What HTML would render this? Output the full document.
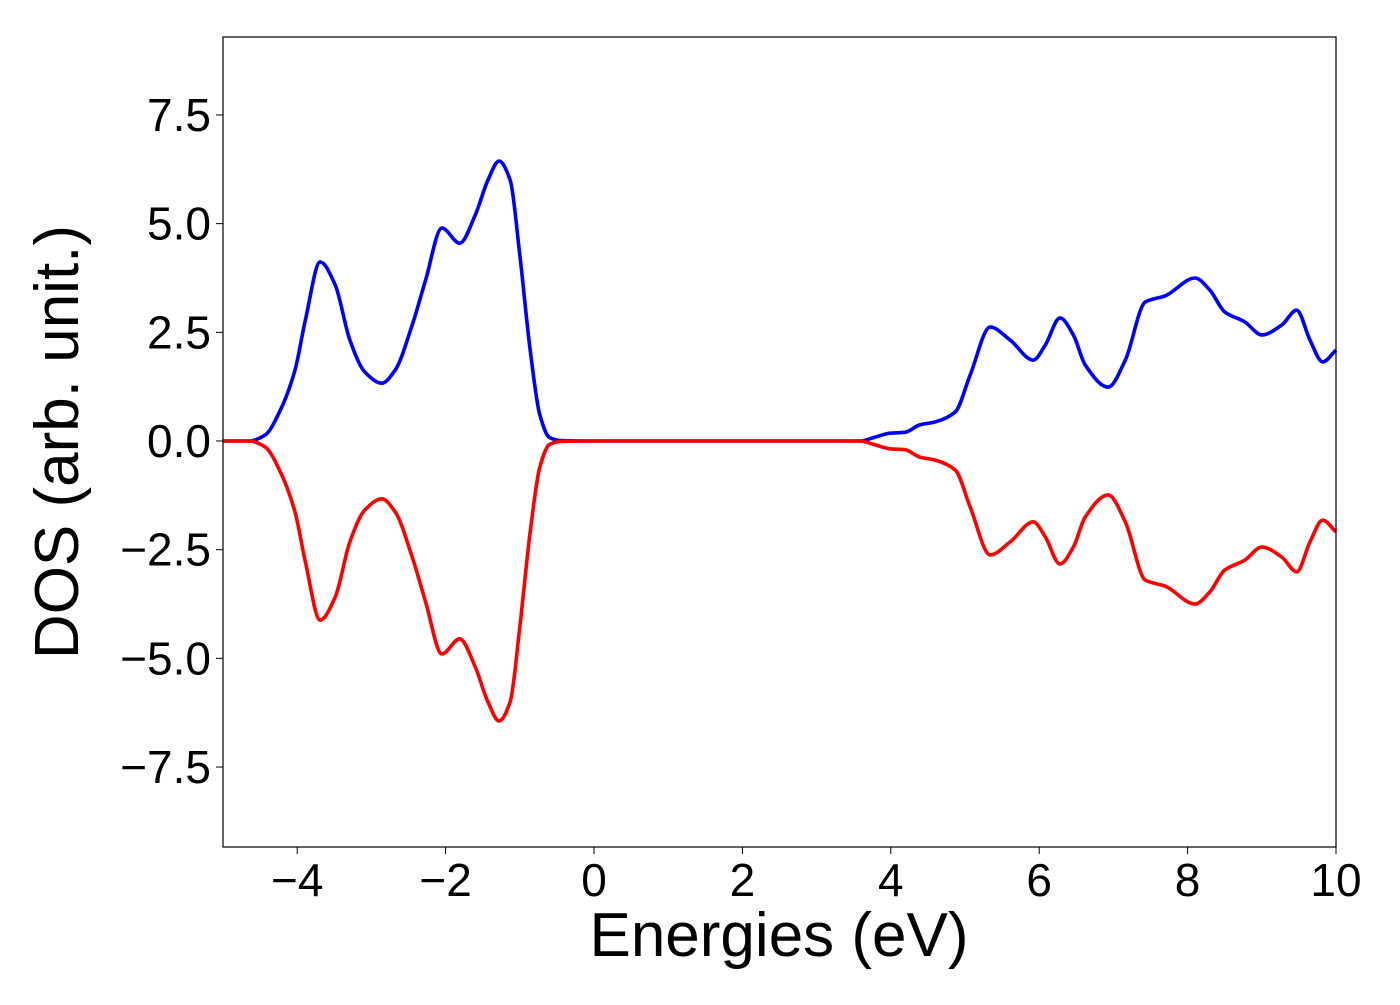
<!DOCTYPE html>
<html><head><meta charset="utf-8"><style>
body{margin:0;background:#fff}
text{font-family:"Liberation Sans","DejaVu Sans",sans-serif;fill:#000}
</style></head><body>
<svg id="chart" width="1400" height="1000" xmlns="http://www.w3.org/2000/svg">
<g id="marks"></g>
<rect x="223" y="37" width="1113" height="810" fill="none" stroke="#000" stroke-width="1.2"/>
<g id="xt"></g><g id="yt"></g>
<text x="779" y="956" font-size="62" text-anchor="middle">Energies (eV)</text>
<text transform="translate(78,442) rotate(-90)" font-size="62" text-anchor="middle">DOS (arb. unit.)</text>
</svg>
<script>
const energies=[-5,-4.64,-4.43,-4.23,-4.03,-3.89,-3.69,-3.49,-3.29,-3.09,-2.86,-2.68,-2.45,-2.27,-2.05,-1.81,-1.6,-1.43,-1.28,-1.13,-1.0,-0.86,-0.73,-0.6,-0.45,0,1,2,3,3.58,3.79,3.99,4.19,4.39,4.6,4.87,5.07,5.34,5.61,5.92,6.08,6.28,6.46,6.62,6.93,7.16,7.43,7.7,8.1,8.3,8.5,8.77,9.0,9.27,9.47,9.65,9.82,10];
const dosUp=[0,0,0.14,0.7,1.63,2.78,4.12,3.6,2.32,1.59,1.33,1.63,2.67,3.7,4.9,4.55,5.2,6.0,6.44,6.0,4.28,2.09,0.6,0.08,0.01,0,0,0,0,0,0.09,0.18,0.2,0.37,0.44,0.67,1.52,2.62,2.32,1.86,2.2,2.83,2.44,1.75,1.24,1.86,3.2,3.34,3.75,3.47,2.97,2.74,2.44,2.67,3.01,2.32,1.82,2.09];
const dosDown=dosUp.map(v=>-v);
const xTicks=[-4,-2,0,2,4,6,8,10];
const yTicks=[-7.5,-5.0,-2.5,0.0,2.5,5.0,7.5];
const X=e=>594+(e)*74.2;
const Y=v=>441-v*43.47;
const NS='http://www.w3.org/2000/svg';
function path(xs,ys){
  const n=xs.length,px=xs.map(X),py=ys.map(Y);
  const d=[],m=[];
  for(let i=0;i<n-1;i++)d.push((py[i+1]-py[i])/(px[i+1]-px[i]));
  m[0]=d[0];m[n-1]=d[n-2];
  for(let i=1;i<n-1;i++){
    if(d[i-1]*d[i]<=0)m[i]=0;
    else{const h0=px[i]-px[i-1],h1=px[i+1]-px[i];m[i]=3*(h0+h1)/((2*h1+h0)/d[i-1]+(h1+2*h0)/d[i]);}
  }
  let s=`M${px[0]},${py[0]}`;
  for(let i=0;i<n-1;i++){
    const h=(px[i+1]-px[i])/3;
    s+=`C${px[i]+h},${py[i]+m[i]*h} ${px[i+1]-h},${py[i+1]-m[i+1]*h} ${px[i+1]},${py[i+1]}`;
  }
  return s;
}
const marks=document.getElementById('marks');
[[dosUp,'#0000ff','spin-up-line'],[dosDown,'#ff0000','spin-down-line']].forEach(([ys,c,n])=>{
  const el=document.createElementNS(NS,'path');
  el.setAttribute('d',path(energies,ys));
  el.setAttribute('fill','none');el.setAttribute('stroke',c);el.setAttribute('stroke-width','3.6');
  
  
  marks.appendChild(el);
});
const fmt=v=>(v<0?'\u2212':'')+Math.abs(v);
const xt=document.getElementById('xt');
xTicks.forEach(t=>{
  const l=document.createElementNS(NS,'line');
  l.setAttribute('x1',X(t));l.setAttribute('x2',X(t));l.setAttribute('y1',847);l.setAttribute('y2',854);l.setAttribute('stroke','#000');
  
  
  xt.appendChild(l);
  const tx=document.createElementNS(NS,'text');
  tx.setAttribute('x',X(t));tx.setAttribute('y',896);tx.setAttribute('font-size','46');tx.setAttribute('text-anchor','middle');
  tx.textContent=fmt(t);
  
  
  xt.appendChild(tx);
});
const yt=document.getElementById('yt');
yTicks.forEach(t=>{
  const l=document.createElementNS(NS,'line');
  l.setAttribute('x1',216);l.setAttribute('x2',223);l.setAttribute('y1',Y(t));l.setAttribute('y2',Y(t));l.setAttribute('stroke','#000');
  
  
  yt.appendChild(l);
  const tx=document.createElementNS(NS,'text');
  tx.setAttribute('x',211);tx.setAttribute('y',Y(t)+16);tx.setAttribute('font-size','46');tx.setAttribute('text-anchor','end');
  tx.textContent=(t<0?'\u2212':'')+Math.abs(t).toFixed(1);
  
  
  yt.appendChild(tx);
});
</script>
</body></html>
